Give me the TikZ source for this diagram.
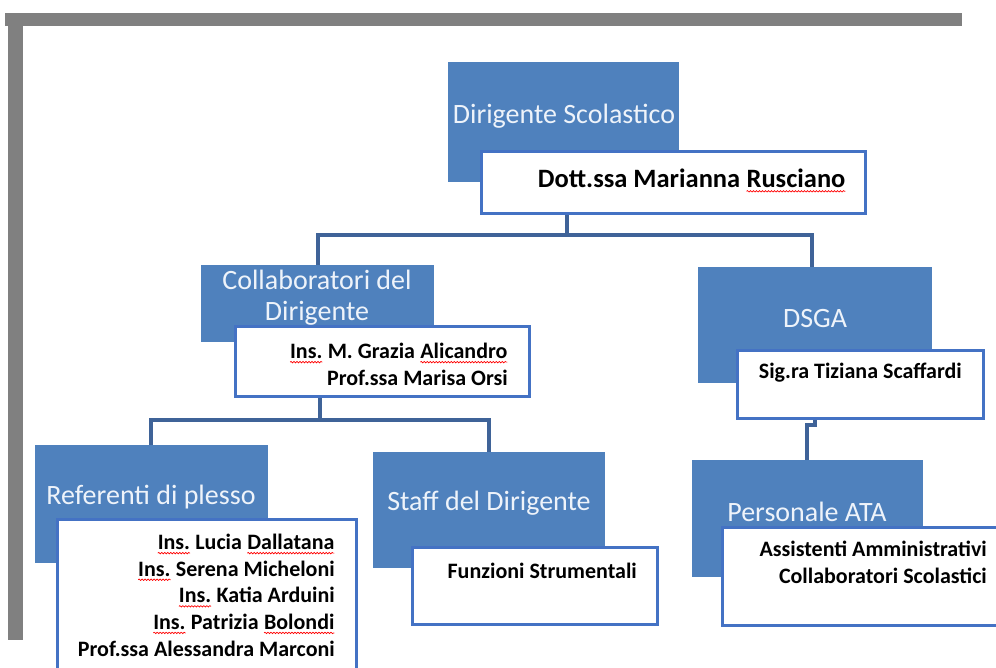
\documentclass[tikz,border=0pt]{standalone}
\usepackage{fontspec}
\setmainfont{Carlito}
\usetikzlibrary{decorations.pathmorphing}
\newcommand\spl[1]{\tikz[baseline=(spw.base)]{\node[inner sep=0pt, outer sep=0pt, text=black] (spw) {#1};
  \draw[red, line width=0.7pt, decorate, decoration={snake, amplitude=0.7pt, segment length=3pt}] ([yshift=-3.5pt]spw.base west) -- ([yshift=-3.5pt]spw.base east);}}
\definecolor{boxblue}{HTML}{4F81BD}
\definecolor{edgeblue}{HTML}{4472C4}
\definecolor{linkblue}{HTML}{3F6398}
\definecolor{framegray}{HTML}{808080}
\definecolor{boxtext}{HTML}{EEF3FA}
\tikzset{
  bluebox/.style={fill=boxblue, draw=none, inner sep=0pt, anchor=north west},
  whitebox/.style={fill=white, draw=edgeblue, line width=3pt, inner sep=0pt, anchor=north west},
  bluetext/.style={text=boxtext, font=\fontsize{28}{31}\selectfont, align=center, inner sep=0pt},
  nametext/.style={text=black, font=\bfseries\fontsize{22}{26.6}\selectfont, align=right, anchor=north east, inner sep=0pt},
  link/.style={draw=linkblue, line width=3.2pt},
}
\begin{document}
\begin{tikzpicture}[x=1pt,y=-1pt]
\useasboundingbox (0,0) rectangle (996,667);
\clip (0,0) rectangle (996,667);
\fill[white] (0,0) rectangle (996,667);
% frame
\fill[framegray] (5,13) rectangle (962,26);
\fill[framegray] (8,13) rectangle (23,640);

% coordinates for connectors
\coordinate (j1) at (567,235);
\coordinate (j1l) at (318,235);
\coordinate (j1r) at (812,235);
\coordinate (j2) at (320,420);
\coordinate (j2l) at (151,420);
\coordinate (j2r) at (489,420);
\coordinate (j3a) at (815,425);
\coordinate (j3b) at (807,425);

% Dirigente Scolastico
\node[bluebox, minimum width=231pt, minimum height=120pt] (ds) at (448,62) {};
\node[bluetext] (dstxt) at (564,116) {Dirigente Scolastico};
\node[whitebox, minimum width=384pt, minimum height=62pt] (dsw) at (480,150) {};
\node[nametext, font=\bfseries\fontsize{26.5}{30}\selectfont] (dsn) at (846,169) {Dott.ssa Marianna \spl{Rusciano}};

% Collaboratori
\node[bluebox, minimum width=233pt, minimum height=77pt] (co) at (201,265) {};
\node[bluetext] (cotxt) at (317,298) {Collaboratori del\\Dirigente};
\node[whitebox, minimum width=294pt, minimum height=70pt] (cow) at (234,325) {};
\node[nametext] (con) at (508,343) {\spl{Ins.} M. Grazia \spl{Alicandro}\\Prof.ssa Marisa Orsi};

% DSGA
\node[bluebox, minimum width=234pt, minimum height=116pt] (dg) at (698,267) {};
\node[bluetext] (dgtxt) at (815,319) {DSGA};
\node[whitebox, minimum width=246pt, minimum height=68pt] (dgw) at (736,349) {};
\node[nametext] (dgn) at (962,363) {Sig.ra Tiziana Scaffardi};

% Referenti
\node[bluebox, minimum width=233pt, minimum height=118pt] (rp) at (35,445) {};
\node[bluetext] (rptxt) at (151,497) {Referenti di plesso};
\node[whitebox, minimum width=299pt, minimum height=170pt] (rpw) at (56,518) {};
\node[nametext] (rpn) at (335,534) {\spl{Ins.} Lucia \spl{Dallatana}\\\spl{Ins.} Serena Micheloni\\\spl{Ins.} Katia Arduini\\\spl{Ins.} Patrizia \spl{Bolondi}\\Prof.ssa Alessandra Marconi};

% Staff
\node[bluebox, minimum width=232pt, minimum height=116pt] (st) at (373,452) {};
\node[bluetext] (sttxt) at (489,503) {Staff del Dirigente};
\node[whitebox, minimum width=245pt, minimum height=77pt] (stw) at (411,546) {};
\node[nametext] (stn) at (637,563) {Funzioni Strumentali};

% Personale ATA
\node[bluebox, minimum width=231pt, minimum height=117pt] (pa) at (692,460) {};
\node[bluetext] (patxt) at (807,512) {Personale ATA};
\node[whitebox, minimum width=290pt, minimum height=98pt] (paw) at (721,526) {};
\node[nametext] (pan) at (987,541) {Assistenti Amministrativi\\Collaboratori Scolastici};

% connectors
\draw[link] (dsw.south -| j1) -- (j1);
\draw[link] (co.north -| j1l) -- (j1l) -- (j1r) -- (dg.north -| j1r);
\draw[link] (cow.south -| j2) -- (j2);
\draw[link] (rp.north -| j2l) -- (j2l) -- (j2r) -- (st.north -| j2r);
\draw[link] (dgw.south -| j3a) -- (j3a) -- (j3b) -- (pa.north -| j3b);
\end{tikzpicture}
\end{document}
